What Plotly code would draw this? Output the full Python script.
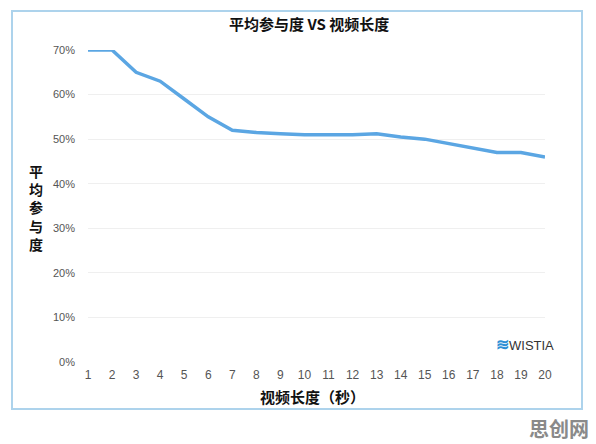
import plotly.graph_objects as go

seconds = list(range(1, 21))
engagement = [70, 70, 65, 63, 59, 55, 52, 51.5, 51.2, 51, 51, 51, 51.2, 50.5, 50, 49, 48, 47, 47, 46]
y_ticks = [0, 10, 20, 30, 40, 50, 60, 70]
y_tick_labels = ["0%", "10%", "20%", "30%", "40%", "50%", "60%", "70%"]

title_text = "平均参与度 VS 视频长度"
x_title = "视频长度（秒）"
y_title = "平均参与度"

W, H = 596, 444
L, R, T, B = 88, 545, 50, 362

def px_x(p):
    return (p - L) / (R - L)

def px_y(p):
    return (B - p) / (B - T)

fig = go.Figure()
fig.add_trace(go.Scatter(
    x=seconds, y=engagement, mode="lines",
    line=dict(color="#5ba6e3", width=3.5),
    hoverinfo="skip", showlegend=False,
))

cjk = "Noto Sans CJK SC"
annotations = [
    dict(text=f"<b>{title_text}</b>", xref="paper", yref="paper", x=px_x(309), y=px_y(23),
         showarrow=False, font=dict(family=cjk, size=15, color="#111"), xanchor="center", yanchor="middle"),
    dict(text=f"<b>{x_title}</b>", xref="paper", yref="paper", x=px_x(312), y=px_y(396),
         showarrow=False, font=dict(family=cjk, size=15, color="#111"), xanchor="center", yanchor="middle"),
    dict(text="<span style='color:#2d8fd5;font-size:16px'><b>≋</b></span>WISTIA", xref="paper", yref="paper",
         x=px_x(556), y=px_y(344), showarrow=False,
         font=dict(family="Liberation Sans", size=13, color="#333"), xanchor="right", yanchor="middle"),
    dict(text="<b>思创网</b>", xref="paper", yref="paper", x=px_x(591), y=px_y(428),
         showarrow=False, font=dict(family=cjk, size=20, color="#8a8a8a"), xanchor="right", yanchor="middle"),
    dict(text="<b>" + "<br>".join(y_title) + "</b>", xref="paper", yref="paper", x=px_x(36), y=px_y(207),
         showarrow=False, font=dict(family=cjk, size=14, color="#111"), xanchor="center", yanchor="middle"),
]

fig.update_layout(
    width=W, height=H,
    margin=dict(l=L, r=W - R, t=T, b=H - B),
    paper_bgcolor="white", plot_bgcolor="white",
    xaxis=dict(range=[1, 20], tickmode="array", tickvals=seconds,
               showgrid=False, zeroline=False, showline=False,
               tickfont=dict(family="Liberation Sans", size=12, color="#555"),
               ticks="", ticklabelstandoff=4),
    yaxis=dict(range=[0, 70], tickmode="array", tickvals=y_ticks, ticktext=y_tick_labels,
               showgrid=True, gridcolor="#efefef", gridwidth=1, zeroline=False, showline=False,
               tickfont=dict(family="Liberation Sans", size=11, color="#555"),
               ticks="", ticklabelstandoff=12),
    shapes=[dict(type="rect", xref="paper", yref="paper",
                 x0=px_x(12), x1=px_x(582), y0=px_y(409), y1=px_y(11),
                 line=dict(color="#add3ec", width=2), fillcolor="rgba(0,0,0,0)", layer="below")],
    annotations=annotations,
)

fig.write_html("out.html")
